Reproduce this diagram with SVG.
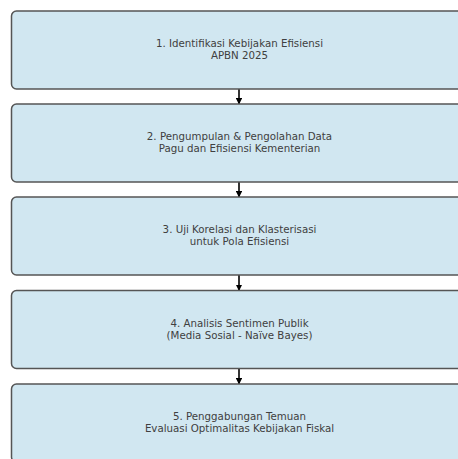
<svg xmlns="http://www.w3.org/2000/svg" width="458" height="459" viewBox="0 0 458 459">
<defs>
<style>
.box{fill:#d1e7f1;stroke:#555;stroke-width:1.5}
.t{font-family:"DejaVu Sans",sans-serif;font-size:10.25px;fill:#404040;text-anchor:middle}
.c{stroke:#000;stroke-width:1.6;fill:none}
</style>
<marker id="ah" viewBox="0 0 10 10" refX="10" refY="5" markerWidth="6.5" markerHeight="6.5" markerUnits="userSpaceOnUse" orient="auto">
<path d="M0,0 L10,5 L0,10 z" fill="#000"/>
</marker>
</defs>
<rect width="458" height="459" fill="#fff"/>
<g id="connectors">
<line class="c" x1="239" y1="86" x2="239" y2="104.5" marker-end="url(#ah)"/>
<line class="c" x1="239" y1="179" x2="239" y2="197.5" marker-end="url(#ah)"/>
<line class="c" x1="239" y1="272.5" x2="239" y2="291" marker-end="url(#ah)"/>
<line class="c" x1="239" y1="366" x2="239" y2="384.5" marker-end="url(#ah)"/>
</g>
<g id="n1">
<rect class="box" x="11.5" y="11" width="456" height="78" rx="5"/>
<text class="t" x="239.5" y="46.8">1. Identifikasi Kebijakan Efisiensi</text>
<text class="t" x="239.5" y="58.8">APBN 2025</text>
</g>
<g id="n2">
<rect class="box" x="11.5" y="104" width="456" height="78" rx="5"/>
<text class="t" x="239.5" y="140">2. Pengumpulan &amp; Pengolahan Data</text>
<text class="t" x="239.5" y="152">Pagu dan Efisiensi Kementerian</text>
</g>
<g id="n3">
<rect class="box" x="11.5" y="197" width="456" height="78" rx="5"/>
<text class="t" x="239.5" y="233">3. Uji Korelasi dan Klasterisasi</text>
<text class="t" x="239.5" y="245">untuk Pola Efisiensi</text>
</g>
<g id="n4">
<rect class="box" x="11.5" y="290.5" width="456" height="78" rx="5"/>
<text class="t" x="239.5" y="326.5">4. Analisis Sentimen Publik</text>
<text class="t" x="239.5" y="338.5">(Media Sosial - Naïve Bayes)</text>
</g>
<g id="n5">
<rect class="box" x="11.5" y="384" width="456" height="78" rx="5"/>
<text class="t" x="239.5" y="420">5. Penggabungan Temuan</text>
<text class="t" x="239.5" y="432">Evaluasi Optimalitas Kebijakan Fiskal</text>
</g>
</svg>
